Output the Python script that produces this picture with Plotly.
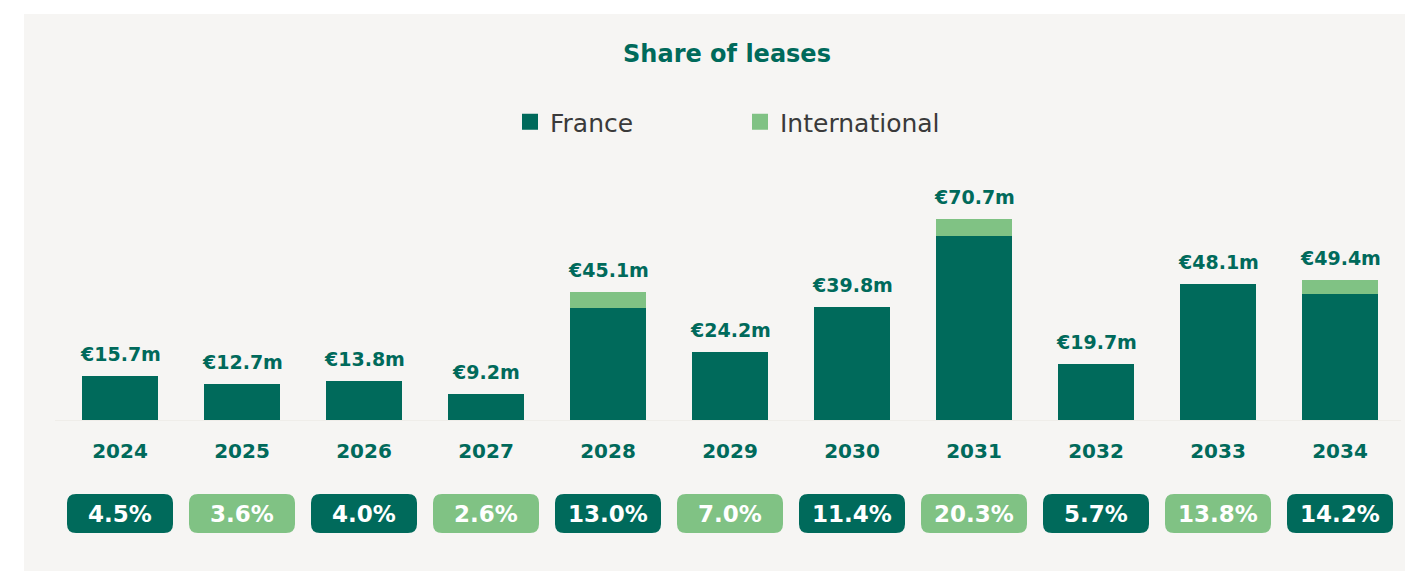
import plotly.graph_objects as go

years = ["2024", "2025", "2026", "2027", "2028", "2029", "2030", "2031", "2032", "2033", "2034"]
france = [15.7, 12.7, 13.8, 9.2, 39.5, 24.2, 39.8, 65.0, 19.7, 48.1, 44.5]
international = [0, 0, 0, 0, 5.6, 0, 0, 5.7, 0, 0, 4.9]
totals = [15.7, 12.7, 13.8, 9.2, 45.1, 24.2, 39.8, 70.7, 19.7, 48.1, 49.4]
total_labels = ["€15.7m", "€12.7m", "€13.8m", "€9.2m", "€45.1m", "€24.2m", "€39.8m", "€70.7m", "€19.7m", "€48.1m", "€49.4m"]
shares = ["4.5%", "3.6%", "4.0%", "2.6%", "13.0%", "7.0%", "11.4%", "20.3%", "5.7%", "13.8%", "14.2%"]

DARK = "#006A5B"
LIGHT = "#80C284"
PANEL = "#F6F5F3"
FONT = "DejaVu Sans"

W, H = 1405, 571

fig = go.Figure()
fig.add_trace(go.Bar(x=years, y=france, name="France", marker=dict(color=DARK, line=dict(width=0)),
                     width=0.623, showlegend=False, hoverinfo="skip"))
fig.add_trace(go.Bar(x=years, y=international, name="International", marker=dict(color=LIGHT, line=dict(width=0)),
                     width=0.623, showlegend=False, hoverinfo="skip"))
# legend entries
fig.add_trace(go.Scatter(x=[None], y=[None], mode="markers", name="France",
                         marker=dict(symbol="square", size=16, color=DARK)))
fig.add_trace(go.Scatter(x=[None], y=[None], mode="markers", name="International",
                         marker=dict(symbol="square", size=16, color=LIGHT)))

shapes = [
    dict(type="rect", xref="paper", yref="paper", x0=24 / W, x1=1.0, y0=0, y1=1 - 14 / H,
         fillcolor=PANEL, line=dict(width=0), layer="below"),
    dict(type="line", xref="paper", yref="y", x0=55 / W, x1=1401 / W, y0=-0.5, y1=-0.5,
         line=dict(color="#DCD5C9", width=3), layer="above"),
]

annotations = []
for i, (tot, lab) in enumerate(zip(totals, total_labels)):
    annotations.append(dict(x=i, y=tot, xref="x", yref="y", text=f"<b>{lab}</b>", showarrow=False,
                            yanchor="bottom", xanchor="center", yshift=9,
                            font=dict(family=FONT, size=19, color=DARK)))

hw = 53 / 122
rx = 9 / 122
yt = (H - 494) / H
yb = (H - 533) / H
ry = 9 / H
for i, s in enumerate(shares):
    col = DARK if i % 2 == 0 else LIGHT
    x0, x1 = i - hw, i + hw
    path = (f"M {x0+rx},{yb} L {x1-rx},{yb} Q {x1},{yb} {x1},{yb+ry} "
            f"L {x1},{yt-ry} Q {x1},{yt} {x1-rx},{yt} L {x0+rx},{yt} "
            f"Q {x0},{yt} {x0},{yt-ry} L {x0},{yb+ry} Q {x0},{yb} {x0+rx},{yb} Z")
    shapes.append(dict(type="path", xref="x", yref="paper", path=path, fillcolor=col,
                       line=dict(width=0), layer="above"))
    annotations.append(dict(x=i, y=(yt + yb) / 2, xref="x", yref="paper", text=f"<b>{s}</b>",
                            showarrow=False, yanchor="middle", xanchor="center",
                            font=dict(family=FONT, size=23, color="white")))

fig.update_layout(
    width=W, height=H,
    margin=dict(l=0, r=0, t=0, b=0),
    paper_bgcolor="white",
    plot_bgcolor="rgba(0,0,0,0)",
    barmode="stack",
    title=dict(text="<b>Share of leases</b>", x=727 / W, xanchor="center", y=1 - 54 / H, yanchor="middle",
               font=dict(family=FONT, size=24, color=DARK)),
    legend=dict(orientation="h", traceorder="normal", x=510 / W, xanchor="left", y=1 - 122 / H,
                yanchor="middle", font=dict(family=FONT, size=25, color="#3A3A3A"),
                bgcolor="rgba(0,0,0,0)", entrywidth=185, entrywidthmode="pixels", itemclick=False),
    xaxis=dict(range=[-120 / 122, -120 / 122 + W / 122], type="category", showgrid=False, zeroline=False,
               showline=False, ticks="", ticklabelstandoff=16,
               tickfont=dict(family=FONT, size=20, color=DARK, weight="bold"), fixedrange=True),
    yaxis=dict(range=[0, 100], domain=[(H - 420.5) / H, (H - 420.5 + 284.3) / H], visible=False,
               showgrid=False, zeroline=False, fixedrange=True),
    shapes=shapes,
    annotations=annotations,
    bargap=0,
)

fig.write_html("out.html", config={"displayModeBar": False},
               post_script="document.body.style.margin='0';")
